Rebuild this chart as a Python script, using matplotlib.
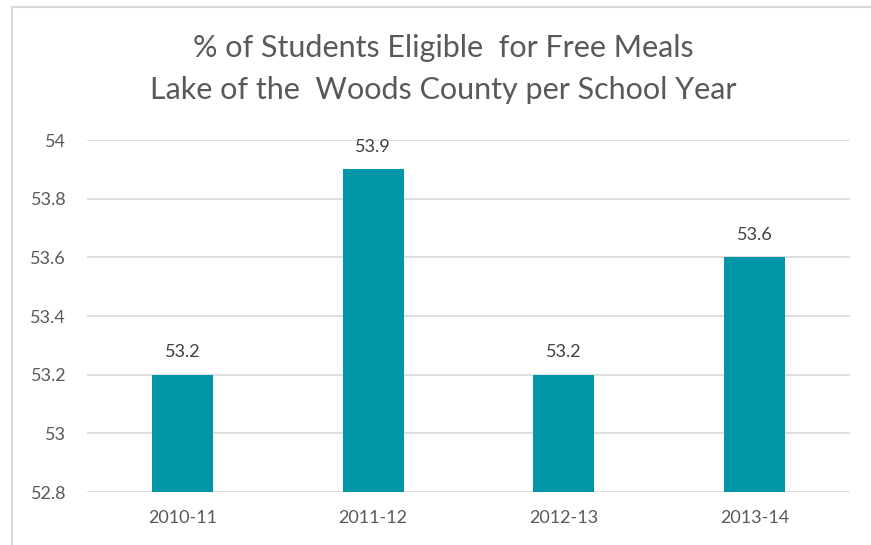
import matplotlib.pyplot as plt
from matplotlib.patches import Rectangle

# data
years = ["2010-11", "2011-12", "2012-13", "2013-14"]
eligible_pct = [53.2, 53.9, 53.2, 53.6]
y_ticks = [52.8, 53, 53.2, 53.4, 53.6, 53.8, 54]
y_tick_labels = ["52.8", "53", "53.2", "53.4", "53.6", "53.8", "54"]

bar_color = "#0096A8"
text_color = "#595959"
grid_color = "#D9D9D9"

plt.rcParams["font.family"] = ["Lato", "DejaVu Sans"]

fig = plt.figure(figsize=(8.71, 5.45), dpi=100)
ax = fig.add_axes([0.0999, 0.0972, 0.876, 0.6459])

# chart frame (left and top edges visible)
fig.patches.append(Rectangle((12 / 871, -0.05), 1.2, 1 - 7 / 545 + 0.05,
                             transform=fig.transFigure, fill=False,
                             edgecolor="#D9D9D9", linewidth=1.5))

x = range(len(years))
bars = ax.bar(x, eligible_pct, width=0.32, color=bar_color, zorder=3)

ax.set_ylim(52.8, 54)
ax.set_xlim(-0.5, len(years) - 0.5)
ax.set_yticks(y_ticks)
ax.set_yticklabels(y_tick_labels)
ax.set_xticks(list(x))
ax.set_xticklabels(years)

ax.grid(axis="y", color=grid_color, linewidth=1.2, zorder=0)
for side in ["top", "right", "left", "bottom"]:
    ax.spines[side].set_visible(False)
ax.tick_params(axis="both", length=0, colors=text_color, labelsize=13)
ax.tick_params(axis="y", pad=15)
ax.tick_params(axis="x", pad=13)

for xi, v in zip(x, eligible_pct):
    ax.annotate(f"{v}", (xi, v), xytext=(0, 16), textcoords="offset points",
                ha="center", va="center", fontsize=13, color="#404040")

title_x = 443 / 871
fig.text(title_x, 1 - 48 / 545, "% of Students Eligible  for Free Meals",
         ha="center", va="center", fontsize=22, color=text_color)
fig.text(title_x, 1 - 90 / 545, "Lake of the  Woods County per School Year",
         ha="center", va="center", fontsize=22, color=text_color)

fig.savefig("out.png", dpi=100)
